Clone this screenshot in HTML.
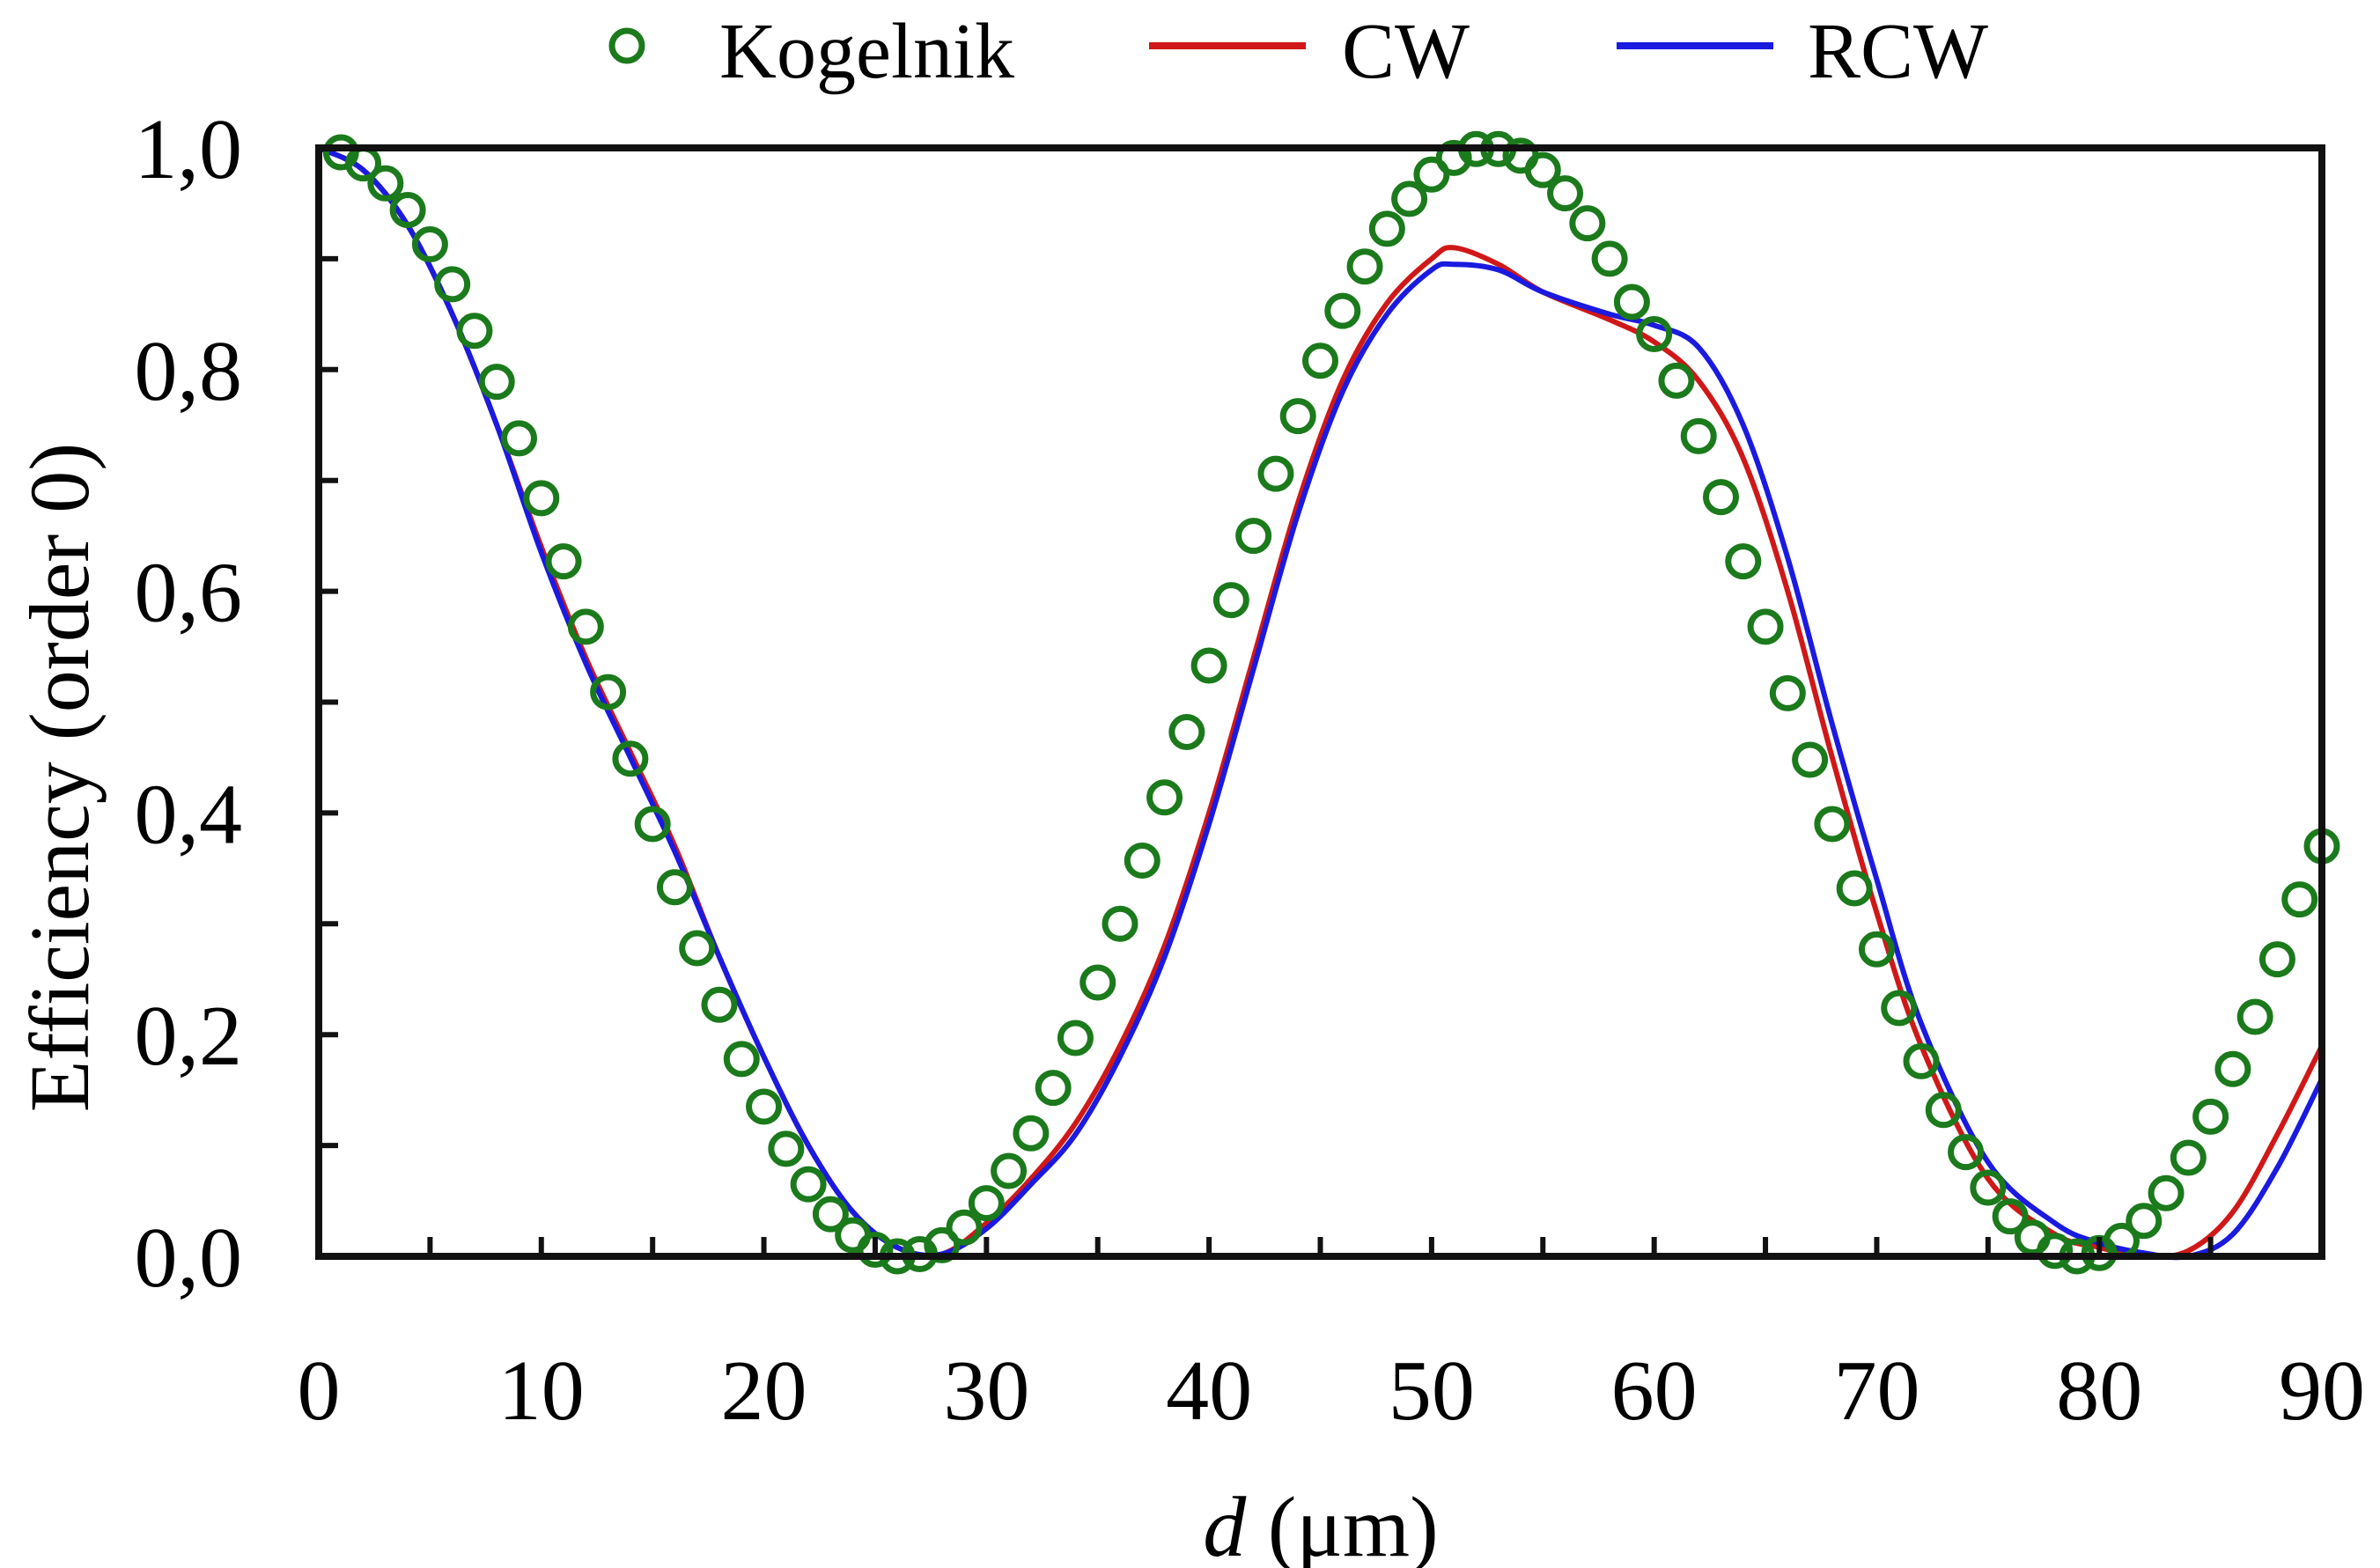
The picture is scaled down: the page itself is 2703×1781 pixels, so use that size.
<!DOCTYPE html>
<html><head><meta charset="utf-8"><style>
html,body{margin:0;padding:0;background:#fff;}
svg{display:block;font-family:"Liberation Serif",serif;}
</style></head><body>
<svg id="chart" width="2703" height="1781" viewBox="0 0 2703 1781">
  <g id="marks"></g>
  <rect x="362" y="168" width="2275" height="1259" fill="none" stroke="#111" stroke-width="8"/>
  <g id="ticks"></g>
  <text x="1500" y="1767" font-size="98" text-anchor="middle"><tspan font-style="italic">d</tspan> (μm)</text>
  <text transform="translate(100,883) rotate(-90)" font-size="96" text-anchor="middle">Efficiency (order 0)</text>
  <g>
    <g>
      <circle cx="712" cy="52" r="17" fill="none" stroke="#1b7a1b" stroke-width="7"/>
      <text x="817" y="88" font-size="90">Kogelnik</text>
    </g>
    <g>
      <line x1="1305" y1="52" x2="1483" y2="52" stroke="#d01818" stroke-width="8"/>
      <text x="1524" y="88" font-size="90">CW</text>
    </g>
    <g>
      <line x1="1836" y1="52" x2="2014" y2="52" stroke="#1a1ae0" stroke-width="8"/>
      <text x="2053" y="88" font-size="90">RCW</text>
    </g>
  </g>
</svg>
<script>
const kogD = [1,2,3,4,5,6,7,8,9,10,11,12,13,14,15,16,17,18,19,20,21,22,23,24,25,26,27,28,29,30,31,32,33,34,35,36,37,38,39,40,41,42,43,44,45,46,47,48,49,50,51,52,53,54,55,56,57,58,59,60,61,62,63,64,65,66,67,68,69,70,71,72,73,74,75,76,77,78,79,80,81,82,83,84,85,86,87,88,89,90];
const kogV = [0.996,0.986,0.968,0.944,0.913,0.877,0.835,0.789,0.738,0.684,0.627,0.568,0.509,0.449,0.390,0.333,0.278,0.227,0.178,0.135,0.097,0.065,0.038,0.019,0.006,0.000,0.002,0.010,0.026,0.048,0.077,0.111,0.152,0.197,0.247,0.300,0.357,0.414,0.473,0.533,0.592,0.650,0.706,0.758,0.808,0.853,0.893,0.927,0.954,0.976,0.991,0.999,0.999,0.993,0.980,0.959,0.932,0.900,0.861,0.832,0.790,0.740,0.685,0.627,0.568,0.508,0.448,0.390,0.332,0.277,0.224,0.176,0.132,0.094,0.062,0.036,0.017,0.005,0.000,0.003,0.014,0.032,0.057,0.089,0.126,0.169,0.216,0.268,0.322,0.370];
const lineD = [0,2,4,6,8,10,12,14,16,18,20,22,24,26,28,30,32,34,36,38,40,42,44,46,48,50,51,53,55,58,60,62,64,66,68,70,72,75,78,80,82,84,86,88,90];
const cwV  = [1.0,0.98,0.93,0.85,0.75,0.64,0.54,0.455,0.37,0.27,0.18,0.10,0.04,0.008,0.002,0.03,0.07,0.12,0.19,0.28,0.40,0.54,0.68,0.79,0.86,0.90,0.91,0.895,0.87,0.845,0.825,0.79,0.72,0.60,0.45,0.31,0.19,0.07,0.02,0.008,0.0,0.005,0.04,0.11,0.19];
const rcwV = [1.0,0.98,0.93,0.85,0.75,0.635,0.535,0.45,0.365,0.27,0.18,0.10,0.04,0.008,0.002,0.025,0.065,0.11,0.18,0.27,0.39,0.53,0.67,0.78,0.85,0.89,0.895,0.89,0.87,0.85,0.84,0.82,0.75,0.63,0.48,0.34,0.21,0.085,0.03,0.012,0.003,0.0,0.02,0.08,0.16];
const xTicks = [0,10,20,30,40,50,60,70,80,90];
const yTicks = [0,0.2,0.4,0.6,0.8,1.0];
const yTickLabels = ["0,0","0,2","0,4","0,6","0,8","1,0"];

const X0=362,X1=2637,Y0=1427,Y1=168;
const xs = d => X0 + (d/90)*(X1-X0);
const ys = v => Y0 - v*(Y0-Y1);
const NS="http://www.w3.org/2000/svg";
const marks=document.getElementById('marks');
const ticks=document.getElementById('ticks');

function smoothPath(D,V){
  const p=D.map((d,i)=>[xs(d),ys(V[i])]);
  let s=`M${p[0][0]},${p[0][1]}`;
  for(let i=0;i<p.length-1;i++){
    const a=p[Math.max(i-1,0)],b=p[i],c=p[i+1],e=p[Math.min(i+2,p.length-1)];
    const c1=[b[0]+(c[0]-a[0])/6,b[1]+(c[1]-a[1])/6];
    const c2=[c[0]-(e[0]-b[0])/6,c[1]-(e[1]-b[1])/6];
    s+=` C${c1[0]},${c1[1]} ${c2[0]},${c2[1]} ${c[0]},${c[1]}`;
  }
  return s;
}
const cw=document.createElementNS(NS,'path');
cw.setAttribute('d',smoothPath(lineD,cwV));
cw.setAttribute('fill','none');cw.setAttribute('stroke','#d01818');cw.setAttribute('stroke-width','6');


marks.appendChild(cw);
const rcw=document.createElementNS(NS,'path');
rcw.setAttribute('d',smoothPath(lineD,rcwV));
rcw.setAttribute('fill','none');rcw.setAttribute('stroke','#1a1ae0');rcw.setAttribute('stroke-width','6');


marks.appendChild(rcw);
kogD.forEach((d,i)=>{
  const c=document.createElementNS(NS,'circle');
  c.setAttribute('cx',xs(d));c.setAttribute('cy',ys(kogV[i]));c.setAttribute('r','17');
  c.setAttribute('fill','none');c.setAttribute('stroke','#1b7a1b');c.setAttribute('stroke-width','7');
  
  
  marks.appendChild(c);
});
for(let d=5;d<90;d+=5){
  const l=document.createElementNS(NS,'line');
  l.setAttribute('x1',xs(d));l.setAttribute('x2',xs(d));l.setAttribute('y1',Y0);l.setAttribute('y2',Y0-22);
  l.setAttribute('stroke','#111');l.setAttribute('stroke-width','6');
  
  
  ticks.appendChild(l);
}
for(let k=1;k<10;k++){
  const v=k/10;
  const l=document.createElementNS(NS,'line');
  l.setAttribute('x1',X0);l.setAttribute('x2',X0+22);l.setAttribute('y1',ys(v));l.setAttribute('y2',ys(v));
  l.setAttribute('stroke','#111');l.setAttribute('stroke-width','6');
  
  
  ticks.appendChild(l);
}
xTicks.forEach(d=>{
  const t=document.createElementNS(NS,'text');
  t.setAttribute('x',xs(d));t.setAttribute('y',1612);t.setAttribute('font-size','98');t.setAttribute('text-anchor','middle');
  t.textContent=String(d);
  
  
  ticks.appendChild(t);
});
yTicks.forEach((v,i)=>{
  const t=document.createElementNS(NS,'text');
  t.setAttribute('x',275);t.setAttribute('y',ys(v)+34);t.setAttribute('font-size','98');t.setAttribute('text-anchor','end');
  t.textContent=yTickLabels[i];
  
  
  ticks.appendChild(t);
});
</script>
</body></html>
